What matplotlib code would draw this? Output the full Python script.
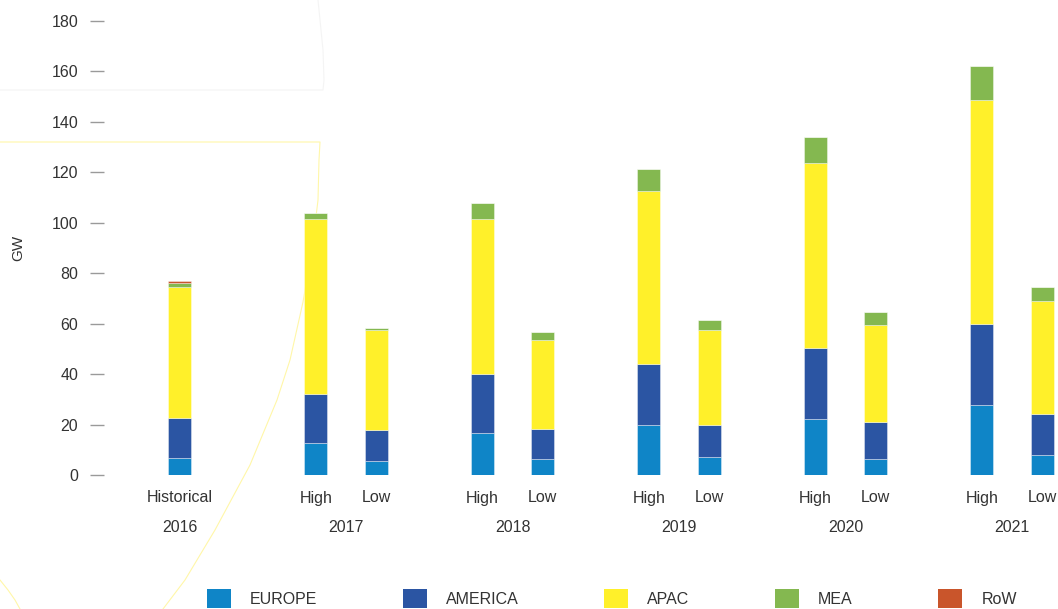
import matplotlib
matplotlib.use("Agg")
import matplotlib.pyplot as plt
from matplotlib.lines import Line2D
from matplotlib.patches import Patch
import numpy as np

plt.rcParams["font.family"] = ["Liberation Sans", "DejaVu Sans"]

# bars, left to right
scenarios = ["Historical", "High", "Low", "High", "Low", "High", "Low",
             "High", "Low", "High", "Low"]
bar_years = ["2016", "2017", "2017", "2018", "2018", "2019", "2019",
             "2020", "2020", "2021", "2021"]
years = ["2016", "2017", "2018", "2019", "2020", "2021"]

regions = ["EUROPE", "AMERICA", "APAC", "MEA", "RoW"]
europe = [6.7, 12.6, 5.4, 16.5, 6.3, 19.7, 7.1, 22.2, 6.2, 27.6, 7.8]
america = [15.9, 19.6, 12.6, 23.7, 11.8, 24.4, 12.6, 28.0, 14.9, 32.2, 16.5]
apac = [52.1, 69.3, 39.4, 61.3, 35.3, 68.5, 37.7, 73.4, 38.5, 88.9, 44.8]
mea = [1.4, 2.4, 0.9, 6.2, 3.2, 8.6, 3.9, 10.3, 4.9, 13.5, 5.6]
row = [0.8, 0, 0, 0, 0, 0, 0, 0, 0, 0, 0]

colors = ["#0f85c7", "#2b55a3", "#fff02a", "#84b850", "#c9552b"]
text_col = "#333333"

W, H = 1058, 609
fig = plt.figure(figsize=(W / 100, H / 100), dpi=100)
ax = fig.add_axes([104 / W, 1 - 475 / H, 954 / W, 454 / H])

# faint decorative background lines (figure pixel coords)
def deco(xs, ys, color, lw=0.8):
    fig.add_artist(Line2D(np.array(xs) / W, 1 - np.array(ys) / H,
                          color=color, lw=lw, zorder=0))

deco([0, 323, 324, 323, 320, 318], [90, 90, 80, 50, 20, 0], "#f4f4f4")
deco([0, 320, 319, 318, 312, 303, 290, 277, 250, 215, 185, 163],
     [142, 142, 160, 200, 250, 302, 360, 400, 465, 530, 580, 609], "#fff7a8")
deco([0, 8, 15, 20], [580, 590, 600, 609], "#fff7a8")

# x positions from year group and scenario
offset = {"Historical": 0.0, "High": -0.182, "Low": 0.182}
xpos = np.array([years.index(y) + offset[s] for s, y in zip(scenarios, bar_years)])

series = [europe, america, apac, mea, row]
bottom = np.zeros(len(scenarios))
for name, vals, c in zip(regions, series, colors):
    vals = np.array(vals)
    ax.bar(xpos, vals, width=0.138, bottom=bottom, color=c,
           edgecolor=(1, 1, 1, 0.45), linewidth=0.6, label=name, zorder=2)
    bottom += vals

ax.set_xlim((104 - 179.5) / 166.5, (1058 - 179.5) / 166.5)
ax.set_ylim(0, 180)
ax.set_yticks(np.arange(0, 181, 20))

for s in ax.spines.values():
    s.set_visible(False)
ax.patch.set_alpha(0)
ax.set_xticks([])
ax.tick_params(axis="y", length=10, width=1, color="#9a9a9a", pad=8.5,
               labelsize=11.5, labelcolor=text_col)

ax.set_ylabel("GW", fontsize=11, color=text_col)
ax.yaxis.set_label_coords(-0.083, 0.5)

trans = matplotlib.transforms.blended_transform_factory(ax.transData, fig.transFigure)
for x, s in zip(xpos, scenarios):
    ax.text(x, 1 - 498 / H, s, transform=trans, ha="center", va="center",
            fontsize=11.5, color=text_col, clip_on=False)
for i, y in enumerate(years):
    ax.text(i, 1 - 528 / H, y, transform=trans, ha="center", va="center",
            fontsize=11.5, color=text_col, clip_on=False)

handles = [Patch(facecolor=c, edgecolor="none") for c in colors]
fig.legend(handles, regions, loc="upper left", bbox_to_anchor=(207 / W, 1 - 589 / H),
           ncol=5, frameon=False, fontsize=11.5, handlelength=1.5, handleheight=1.5,
           handletextpad=1.2, columnspacing=5.35, borderpad=0, borderaxespad=0,
           labelcolor=text_col)

fig.savefig("out.png", dpi=100)
